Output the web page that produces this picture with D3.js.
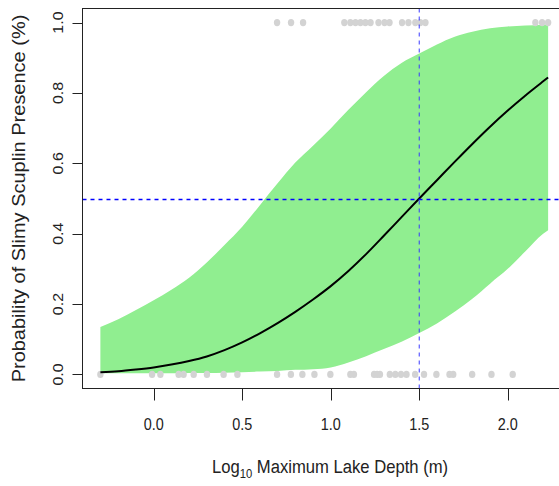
<!DOCTYPE html>
<html>
<head>
<meta charset="utf-8">
<script src="https://cdn.jsdelivr.net/npm/d3@7"></script>
<style>
html,body{margin:0;padding:0;background:#fff;}
svg{display:block;font-family:"Liberation Sans",Arial,sans-serif;}
</style>
</head>
<body>
<svg id="chart" width="559" height="486"></svg>
<script>
// ---- data ----
const xGrid  = [-0.301,-0.2,-0.1,0.0,0.1,0.2,0.3,0.4,0.5,0.6,0.7,0.8,0.9,1.0,1.1,1.2,1.3,1.4,1.5,1.6,1.7,1.8,1.9,2.0,2.1,2.2,2.228];
const fitP   = [0.006,0.009,0.014,0.020,0.028,0.038,0.051,0.069,0.091,0.117,0.146,0.178,0.213,0.251,0.294,0.342,0.394,0.447,0.500,0.552,0.604,0.655,0.704,0.750,0.793,0.833,0.844];
const lowerP = [0.003,0.003,0.003,0.003,0.003,0.004,0.004,0.005,0.006,0.008,0.010,0.013,0.015,0.020,0.034,0.052,0.072,0.093,0.118,0.145,0.178,0.215,0.258,0.300,0.350,0.400,0.410];
const upperP = [0.135,0.157,0.183,0.211,0.241,0.275,0.318,0.368,0.420,0.481,0.543,0.602,0.650,0.699,0.752,0.802,0.848,0.885,0.912,0.938,0.960,0.974,0.984,0.989,0.992,0.994,0.995];
const presentX = [0.697,0.776,0.844,1.077,1.111,1.140,1.168,1.196,1.225,1.270,1.304,1.332,1.403,1.439,1.478,1.506,1.535,2.156,2.194,2.228];
const absentX  = [-0.301,-0.009,0.038,0.141,0.169,0.226,0.301,0.395,0.473,0.697,0.775,0.840,0.908,0.998,1.111,1.131,1.245,1.262,1.278,1.334,1.365,1.397,1.428,1.477,1.527,1.597,1.671,1.692,1.799,1.908,2.028];
const xTicks = [0, 0.5, 1.0, 1.5, 2.0];
const yTicks = [0, 0.2, 0.4, 0.6, 0.8, 1.0];
const cutX = 1.5, cutP = 0.5;
const yTitle = "Probability of Slimy Scuplin Presence (%)";

// ---- layout ----
const svg = d3.select("#chart");
const L = 82.5, R = 566, T = 8.5, B = 388.5;
const sx = 0.9; // horizontal glyph compression seen in the reference
const x = d3.scaleLinear().domain([-0.402, 2.329]).range([L, R]);
const y = d3.scaleLinear().domain([-0.04, 1.04]).range([B, T]);

svg.append("defs").append("clipPath").attr("id","clip")
  .append("rect").attr("x",L).attr("y",T).attr("width",R-L).attr("height",B-T);
const plot = svg.append("g").attr("clip-path","url(#clip)");

// band
const bandData = xGrid.map((v,i)=>({x:v,lo:lowerP[i],hi:upperP[i]}));
plot.append("path").datum(bandData)
  .attr("fill","#90ee90")
  .attr("d", d3.area().x(d=>x(d.x)).y0(d=>y(d.lo)).y1(d=>y(d.hi)).curve(d3.curveMonotoneX));

// points
plot.selectAll(".p1").data(presentX).join("ellipse")
  .attr("cx",d=>x(d)).attr("cy",y(1)).attr("rx",3.2).attr("ry",3.6).attr("fill","#d3d3d3");
plot.selectAll(".p0").data(absentX).join("ellipse")
  .attr("cx",d=>x(d)).attr("cy",y(0)).attr("rx",3.2).attr("ry",3.6).attr("fill","#d3d3d3");

// fitted curve
plot.append("path").datum(xGrid.map((v,i)=>({x:v,p:fitP[i]})))
  .attr("fill","none").attr("stroke","#000").attr("stroke-width",2)
  .attr("d", d3.line().x(d=>x(d.x)).y(d=>y(d.p)).curve(d3.curveMonotoneX));

// dashed reference lines
plot.append("line").attr("x1",L).attr("x2",R).attr("y1",Math.round(y(cutP))+0.5).attr("y2",Math.round(y(cutP))+0.5)
  .attr("stroke","#0000ff").attr("stroke-width",1.3).attr("stroke-dasharray","4,4");
plot.append("line").attr("x1",x(cutX)).attr("x2",x(cutX)).attr("y1",T).attr("y2",B)
  .attr("stroke","#3a3aff").attr("stroke-width",1).attr("stroke-dasharray","4,4");

// box
svg.append("rect").attr("x",L).attr("y",T).attr("width",R-L).attr("height",B-T)
  .attr("fill","none").attr("stroke","#222").attr("stroke-width",1);

// x axis ticks and labels
const gx = svg.append("g");
gx.selectAll("line").data(xTicks).join("line")
  .attr("x1",d=>Math.round(x(d))+0.5).attr("x2",d=>Math.round(x(d))+0.5)
  .attr("y1",B).attr("y2",B+12).attr("stroke","#222");
gx.selectAll("text").data(xTicks).join("text")
  .attr("transform",d=>`translate(${x(d)},430) scale(${sx},1)`)
  .attr("text-anchor","middle").attr("font-size",16).attr("fill","#222")
  .text(d=>d3.format(".1f")(d));

// y axis ticks and labels
const gy = svg.append("g");
gy.selectAll("line").data(yTicks).join("line")
  .attr("x1",L-10).attr("x2",L)
  .attr("y1",d=>Math.round(y(d))+0.5).attr("y2",d=>Math.round(y(d))+0.5).attr("stroke","#222");
gy.selectAll("text").data(yTicks).join("text")
  .attr("transform",d=>`translate(63,${y(d)}) scale(${sx},1) rotate(-90)`)
  .attr("text-anchor","middle").attr("font-size",16).attr("fill","#222")
  .text(d=>d3.format(".1f")(d));

// axis titles
const xt = svg.append("text")
  .attr("transform",`translate(330,473) scale(${sx},1)`)
  .attr("text-anchor","middle").attr("font-size",18.5).attr("fill","#222");
xt.append("tspan").text("Log");
xt.append("tspan").attr("font-size",12.5).attr("dy",5).text("10");
xt.append("tspan").attr("dy",-5).text(" Maximum Lake Depth (m)");

svg.append("text")
  .attr("transform",`translate(25,${y(0.5)}) scale(${sx},1) rotate(-90)`)
  .attr("text-anchor","middle").attr("font-size",20).attr("fill","#222")
  .text(yTitle);
</script>
</body>
</html>
